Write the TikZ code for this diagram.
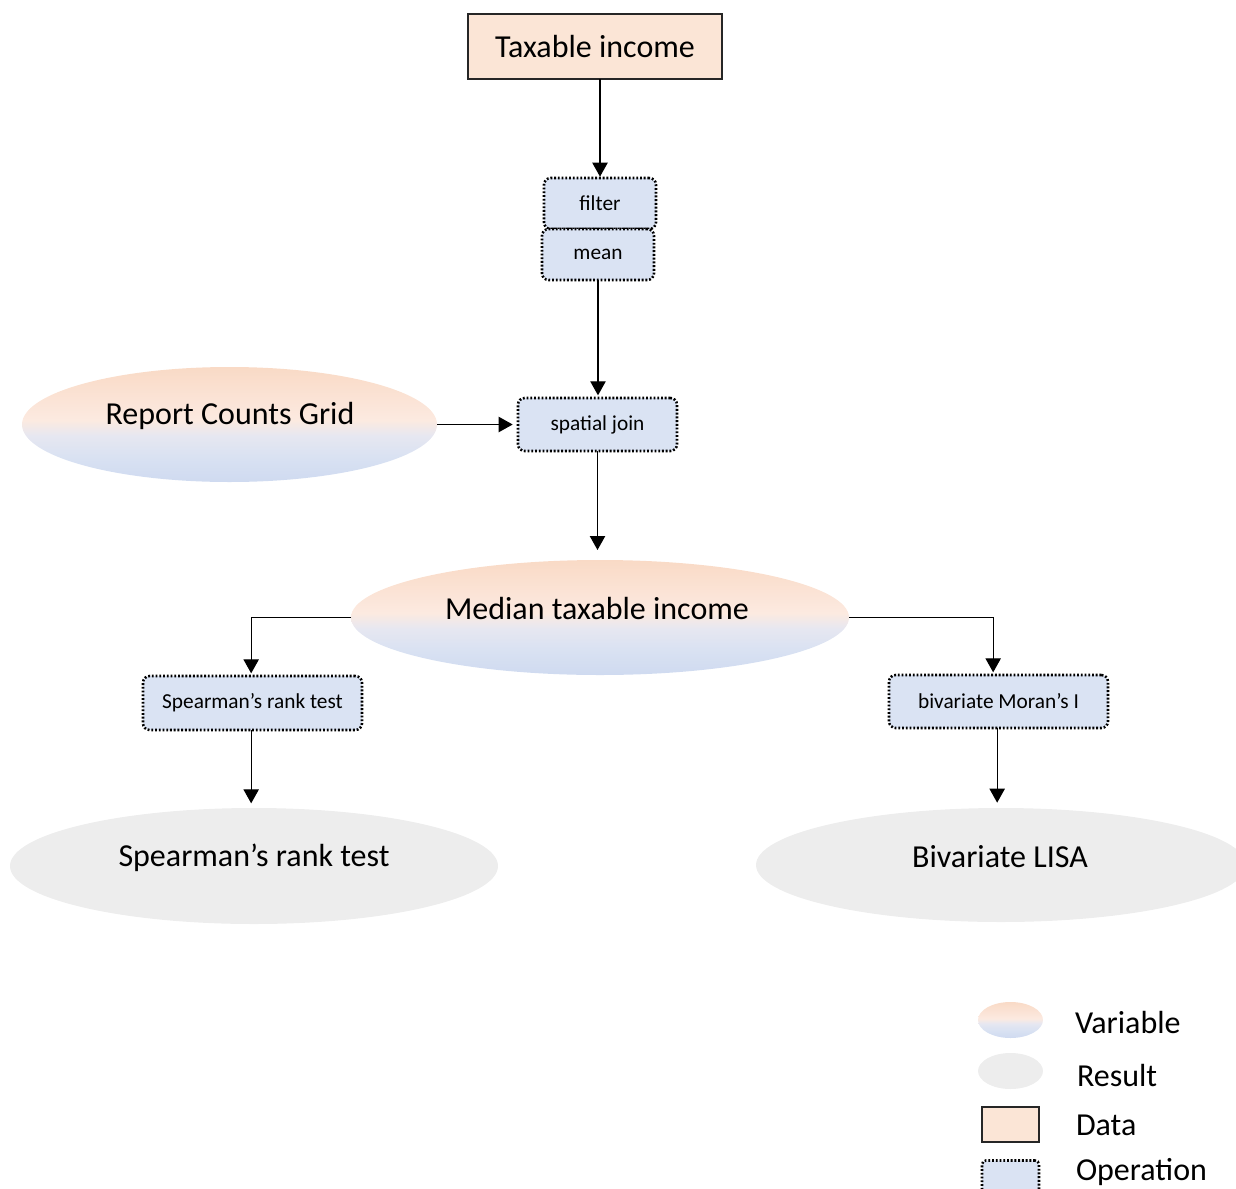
\documentclass[tikz,border=0pt]{standalone}
\usepackage{fontspec}
\setmainfont{Carlito}
\usetikzlibrary{arrows.meta,shapes.geometric}

\definecolor{peach}{HTML}{FBE5D6}
\definecolor{opblue}{HTML}{DAE3F3}
\definecolor{resgray}{HTML}{EDEDED}
\definecolor{vbA}{RGB}{207,218,240}
\definecolor{vbB}{RGB}{216,225,242}
\definecolor{vbC}{RGB}{230,231,241}
\definecolor{vpA}{RGB}{252,234,224}
\definecolor{vpB}{RGB}{251,228,215}
\definecolor{vpC}{RGB}{249,218,198}

% peach at the top fading into light blue at the bottom
\pgfdeclareverticalshading{varshade}{100bp}{%
  color(0bp)=(vbA); color(25bp)=(vbA); color(35bp)=(vbB);
  color(45bp)=(vbC); color(52bp)=(vpA); color(60bp)=(vpB);
  color(75bp)=(vpC); color(100bp)=(vpC)}

\begin{document}
\begin{tikzpicture}[x=0.75pt,y=-0.75pt,
  every node/.style={inner sep=0pt,outer sep=0pt},
  big/.style={font=\fontsize{24}{28}\selectfont},
  small/.style={font=\fontsize{16}{19}\selectfont},
  databox/.style={draw=black!85,line width=0.8pt,fill=peach},
  opbox/.style={draw=black,fill=opblue,rounded corners=5pt,line width=1.9pt,
    dash pattern=on 1.4pt off 1.4pt,small},
  varell/.style={ellipse,shading=varshade},
  resell/.style={ellipse,fill=resgray},
  arr/.style={-{Triangle[width=11.5pt,length=10.5pt]},line width=0.9pt,shorten >=2pt},
  lbl/.style={big,anchor=west}
]
\useasboundingbox (0,0) rectangle (1236,1189);
\clip (0,0) rectangle (1236,1189);

% data source
\node[databox,big,minimum width=190.5pt,minimum height=48.75pt] (tax) at (595,46.5) {Taxable income};

% operations
\node[opbox,minimum width=84pt,minimum height=38.25pt] (filter) at (600,203.5) {filter};
\node[opbox,minimum width=84pt,minimum height=38.25pt] (mean) at (598,254.5) {mean};
\node[opbox,minimum width=119.25pt,minimum height=39.75pt] (sjoin) at (597.5,424.5) {spatial join};
\node[opbox,minimum width=164.25pt,minimum height=40.5pt] (srt) at (252.5,703) {Spearman’s rank test};
\node[opbox,minimum width=164.25pt,minimum height=39.75pt] (bmi) at (998.5,701.5) {bivariate Moran’s I};

% variables
\node[varell,minimum width=311.25pt,minimum height=86.25pt] (rcg) at (229.5,424.5) {};
\node[big] at (230,416) {Report Counts Grid};
\node[varell,minimum width=373.5pt,minimum height=86.25pt] (med) at (600,617.5) {};
\node[big] at (597,608) {Median taxable income};

% results
\node[resell,minimum width=366pt,minimum height=87pt] (srres) at (254,866) {};
\node[big] at (254,858) {Spearman’s rank test};
\node[resell,minimum width=367.5pt,minimum height=85.5pt] (lisa) at (1001,865) {};
\node[big] at (1000,857) {Bivariate LISA};

% connectors
\draw[arr,shorten >=1pt] (tax.south -| filter.north) -- (filter.north);
\draw[arr] (mean.south) -- (mean.south |- sjoin.north);
\draw[arr,shorten >=4pt] (rcg.east) -- (sjoin.west);
\draw[arr,shorten >=7.5pt] (sjoin.south) -- (sjoin.south |- med.north);
\draw[arr] (med.west) -| ([xshift=-1pt]srt.north);
\draw[arr] (med.east) -| ([xshift=-4pt]bmi.north);
\draw[arr,shorten >=3.5pt] ([xshift=-1pt]srt.south) -- ([xshift=-1pt]srt.south |- srres.north);
\draw[arr,shorten >=4pt] ([xshift=-1pt]bmi.south) -- ([xshift=-1pt]bmi.south |- lisa.north);

% legend
\node[varell,minimum width=48.75pt,minimum height=27pt] (lgvar) at (1010.5,1020) {};
\node[lbl] (lgvart) at (1075,1022) {Variable};
\node[resell,minimum width=48.75pt,minimum height=27pt] (lgres) at (1010.5,1071) {};
\node[lbl] (lgrest) at (1077,1075) {Result};
\node[databox,minimum width=42.75pt,minimum height=26.25pt] (lgdat) at (1010.5,1124.5) {};
\node[lbl] (lgdatt) at (1076,1125) {Data};
\node[opbox,minimum width=42.75pt,minimum height=26.25pt,rounded corners=3pt] (lgop) at (1010.5,1178) {};
\node[lbl] (lgopt) at (1076,1172) {Operation};
\end{tikzpicture}
\end{document}
